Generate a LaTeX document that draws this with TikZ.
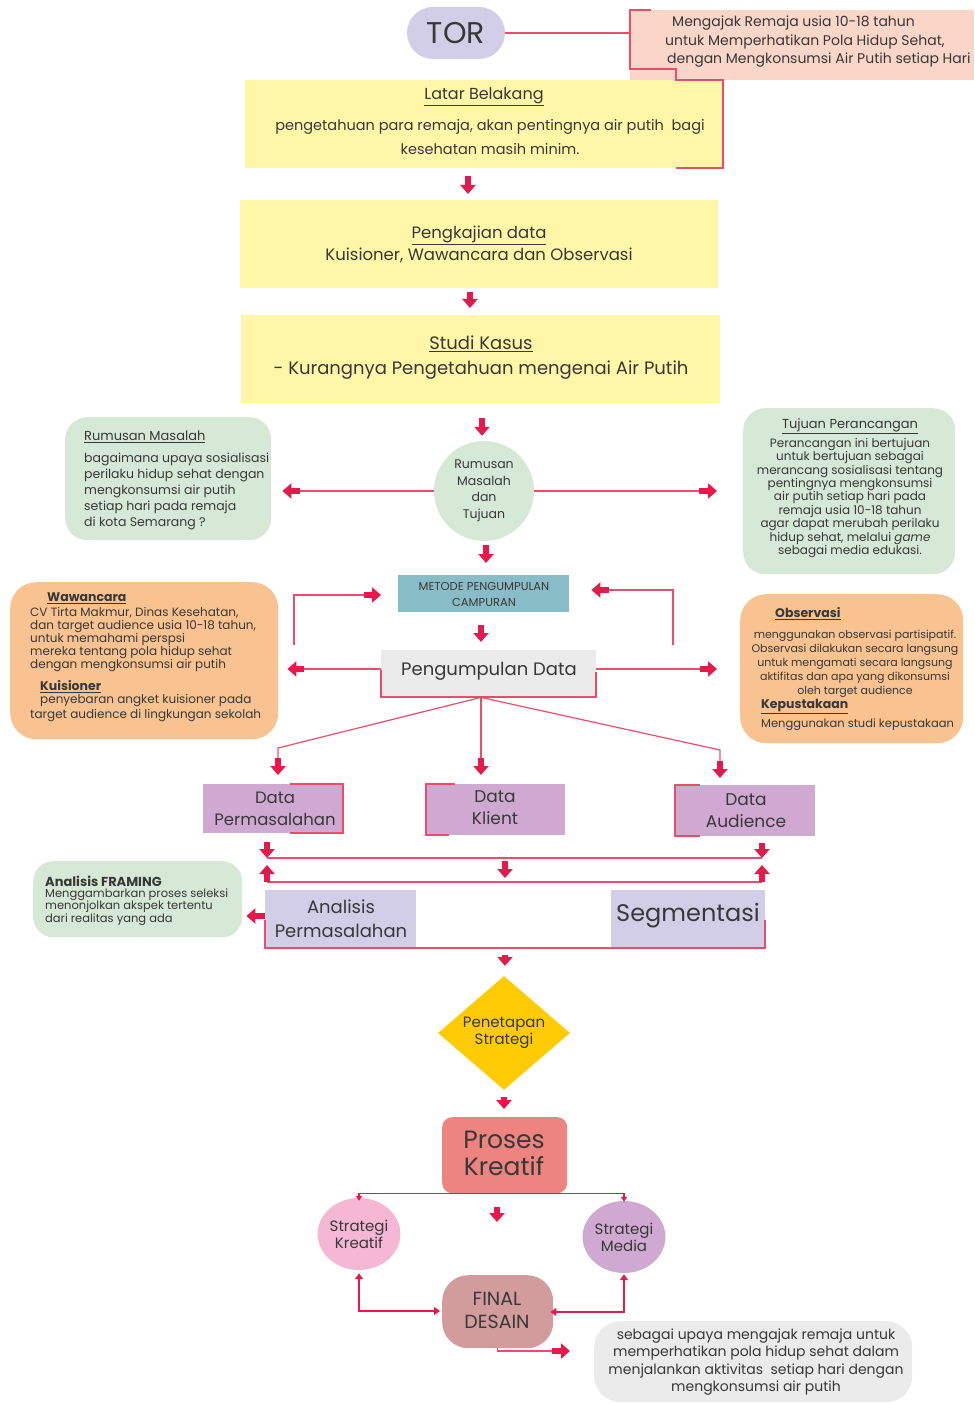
\documentclass[tikz,border=0pt]{standalone}
\usepackage{fontspec}
\setmainfont{Poppins}
\usetikzlibrary{arrows.meta,shapes.geometric,calc}
\definecolor{tc}{HTML}{383838}
\definecolor{ared}{HTML}{E5194B}
\definecolor{lred}{HTML}{EA4D6C}
\definecolor{lav}{HTML}{D3CEE8}
\definecolor{pinkbg}{HTML}{FAD6C9}
\definecolor{yel}{HTML}{FFF6A8}
\definecolor{grn}{HTML}{D6E8D6}
\definecolor{tealc}{HTML}{88BDC7}
\definecolor{gry}{HTML}{EBEBEB}
\definecolor{orn}{HTML}{F8C390}
\definecolor{pur}{HTML}{D0A9D2}
\definecolor{gold}{HTML}{FFCB05}
\definecolor{salm}{HTML}{EE847F}
\definecolor{pk}{HTML}{F5B8D4}
\definecolor{fin}{HTML}{D29C9C}
\newcommand\myfs[2]{\fontsize{#1}{#2}\selectfont}
\begin{document}
\begin{tikzpicture}[x=1pt,y=-1pt,
  t/.style={inner sep=0pt, text=tc, align=center},
  tl/.style={inner sep=0pt, text=tc, align=left, anchor=west},
  bx/.style={anchor=north west, inner sep=0pt, draw=none},
  lline/.style={draw=lred, line width=1.2pt},
  barrow/.style={draw=ared, line width=5.5pt, -{Triangle[length=9pt,width=15pt]}},
  sarrow/.style={draw=ared, line width=1.3pt, -{Triangle[length=5pt,width=6pt]}},
  sarrows/.style={draw=ared, line width=1.3pt, {Triangle[length=6pt,width=8pt]}-{Triangle[length=6pt,width=8pt]}},
]
\useasboundingbox (0,0) rectangle (974,1404);

% ---------- TOR ----------
\node[fill=lav, rounded corners=26pt, minimum width=98pt, minimum height=52pt, inner sep=0pt, text=tc, font=\myfs{30}{32}] (tor) at (456,33) {TOR};
\node[bx, fill=pinkbg, minimum width=344pt, minimum height=70pt] (torbox) at (630,10) {};
\node[tl, font=\myfs{14}{17}] (tort1) at (672,23) {Mengajak Remaja usia 10-18 tahun};
\node[tl, font=\myfs{14}{17}] (tort2) at (665,42) {untuk Memperhatikan Pola Hidup Sehat,};
\node[tl, font=\myfs{14}{17}] (tort3) at (667,60) {dengan Mengkonsumsi Air Putih setiap Hari};
\draw[lline] (tor.east) -- (tor.east -| torbox.west);

% ---------- Latar Belakang ----------
\node[bx, fill=yel, minimum width=478pt, minimum height=88pt] (latar) at (245,80) {};
\node[t, font=\myfs{16}{18}] (latart) at (484,97) {\underline{Latar Belakang}};
\node[t, font=\myfs{14.5}{24}] (latarb) at (490,137) {pengetahuan para remaja, akan pentingnya air putih\ \ bagi\\kesehatan masih minim.};
\draw[lline] (651,10) -- (630,10) -- (630,69) -- (676,69) -- (676,80) -- (723,80) -- (723,168) -- (676,168);

% ---------- Pengkajian ----------
\node[bx, fill=yel, minimum width=478pt, minimum height=88pt] (peng) at (240,200) {};
\node[t, font=\myfs{16.5}{22}] (pengt) at (479,244) {\underline{Pengkajian data}\\Kuisioner, Wawancara dan Observasi};

% ---------- Studi Kasus ----------
\node[bx, fill=yel, minimum width=479pt, minimum height=88pt] (studi) at (241,315) {};
\node[t, font=\myfs{18}{25}] (studit) at (481,358) {\underline{Studi Kasus}\\- Kurangnya Pengetahuan mengenai Air Putih};

\draw[barrow, shorten <=8pt, shorten >=6pt] (latar.south -| 468,0) -- (peng.north -| 468,0);
\draw[barrow, shorten <=4pt, shorten >=7pt] (peng.south -| 470,0) -- (studi.north -| 470,0);

% ---------- Rumusan / Tujuan ----------
\node[circle, fill=grn, minimum size=100pt, inner sep=0pt, text=tc, align=center, font=\myfs{12.5}{16.5}] (rm) at (484,491) {Rumusan\\Masalah\\dan\\Tujuan};
\draw[barrow, shorten <=15pt, shorten >=5pt] (studi.south -| 482,0) -- (rm.north -| 482,0);

\node[bx, fill=grn, rounded corners=22pt, minimum width=206pt, minimum height=123pt] (rum) at (65,417) {};
\node[tl, font=\myfs{13}{16}] (rumt) at (84,437) {\underline{Rumusan Masalah}};
\node[tl, font=\myfs{12.5}{16}] (rumb) at (84,491) {bagaimana upaya sosialisasi\\perilaku hidup sehat dengan\\mengkonsumsi air putih\\setiap hari pada remaja\\di kota Semarang ?};

\node[bx, fill=grn, rounded corners=22pt, minimum width=212pt, minimum height=166pt] (tuj) at (743,408) {};
\node[t, font=\myfs{13}{16}] (tujt) at (850,426) {\underline{Tujuan Perancangan}};
\node[t, font=\myfs{12}{13.4}] (tujb) at (850,498) {Perancangan ini bertujuan\\untuk bertujuan sebagai\\merancang sosialisasi tentang\\pentingnya mengkonsumsi\\air putih setiap hari pada\\remaja usia 10-18 tahun\\agar dapat merubah perilaku\\hidup sehat, melalui \textit{game}\\sebagai media edukasi.};

\draw[lline, shorten >=28pt] (rm.west) -- (rum.east |- rm.west);
\draw[barrow, shorten >=11pt] ([xshift=29pt]rum.east |- rm.west) -- (rum.east |- rm.west);
\draw[lline, shorten >=44pt] (rm.east) -- (tuj.west |- rm.east);
\draw[barrow, shorten >=26pt] ([xshift=-44pt]tuj.west |- rm.east) -- (tuj.west |- rm.east);

% ---------- Metode ----------
\node[bx, fill=tealc, minimum width=171pt, minimum height=37pt] (met) at (398,575) {};
\node[t, font=\myfs{11.5}{16}] (mett) at (484,594) {METODE PENGUMPULAN\\CAMPURAN};
\draw[barrow, shorten <=4pt, shorten >=12pt] (rm.south -| 486,0) -- (met.north -| 486,0);

% ---------- Pengumpulan Data ----------
\node[bx, fill=gry, minimum width=215pt, minimum height=47pt] (pd) at (381,650) {};
\node[t, font=\myfs{18}{22}] (pdt) at (489,671) {Pengumpulan Data};
\draw[lline] (381,670) -- (381,697) -- (596,697) -- (596,672);
\draw[barrow, shorten <=13pt, shorten >=8pt] (met.south -| 481,0) -- (pd.north -| 481,0);

\coordinate (lloop) at (294,645);
\coordinate (rloop) at (673,645);
\draw[lline, shorten >=33pt] (lloop) |- (met.west |- 0,595);
\draw[barrow, shorten >=17pt] ([xshift=-34pt]met.west |- 0,595) -- (met.west |- 0,595);
\draw[lline, shorten >=38pt] (rloop) |- (met.east |- 0,590);
\draw[barrow, shorten >=22pt] ([xshift=40pt]met.east |- 0,590) -- (met.east |- 0,590);

% ---------- Wawancara ----------
\node[bx, fill=orn, rounded corners=26pt, minimum width=268pt, minimum height=157pt] (waw) at (10,582) {};
\node[tl, font=\bfseries\myfs{12.5}{15}] (wawt) at (47,598) {\underline{Wawancara}};
\node[tl, font=\myfs{12}{13}] (wawb) at (30,640) {CV Tirta Makmur, Dinas Kesehatan,\\dan target audience usia 10-18 tahun,\\untuk memahami perspsi\\mereka tentang pola hidup sehat\\dengan mengkonsumsi air putih};
\node[tl, font=\bfseries\myfs{12.5}{15}] (kuit) at (40,687) {\underline{Kuisioner}};
\node[tl, font=\myfs{12}{15}] (kuib1) at (40,701) {penyebaran angket kuisioner pada};
\node[tl, font=\myfs{12}{15}] (kuib2) at (30,716) {target audience di lingkungan sekolah};

% ---------- Observasi ----------
\node[bx, fill=orn, rounded corners=26pt, minimum width=223pt, minimum height=149pt] (obs) at (740,594) {};
\node[tl, font=\bfseries\myfs{12.5}{15}] (obst) at (775,614) {\underline{Observasi}};
\node[t, font=\myfs{11}{14}] (obsb) at (855,664) {menggunakan observasi partisipatif.\\Observasi dilakukan secara langsung\\untuk mengamati secara langsung\\aktifitas dan apa yang dikonsumsi\\oleh target audience};
\node[tl, font=\bfseries\myfs{12.5}{15}] (kept) at (761,707) {\underline{Kepustakaan}};
\node[tl, font=\myfs{11.5}{15}] (kepb) at (761,725) {Menggunakan studi kepustakaan};

\draw[lline, shorten >=25pt] (pd.west |- 0,669) -- (waw.east |- 0,669);
\draw[barrow, shorten >=9pt] ([xshift=26pt]waw.east |- 0,669) -- (waw.east |- 0,669);
\draw[lline, shorten >=39pt] (pd.east |- 0,669) -- (obs.west |- 0,669);
\draw[barrow, shorten >=23pt] ([xshift=-40pt]obs.west |- 0,669) -- (obs.west |- 0,669);

% ---------- Data boxes ----------
\node[bx, fill=pur, minimum width=140pt, minimum height=49pt] (dp) at (203,784) {};
\node[t, font=\myfs{16.5}{22}] (dpt) at (275,809) {Data\\Permasalahan};
\draw[lline] (290,784) -- (343,784) -- (343,833) -- (290,833);
\node[bx, fill=pur, minimum width=139pt, minimum height=51pt] (dk) at (426,784) {};
\node[t, font=\myfs{17}{22}] (dkt) at (495,808) {Data\\Klient};
\draw[lline] (455,784) -- (426,784) -- (426,835) -- (449,835);
\node[bx, fill=pur, minimum width=140pt, minimum height=51pt] (da) at (675,785) {};
\node[t, font=\myfs{17}{22}] (dat) at (746,811) {Data\\Audience};
\draw[lline] (700,785) -- (675,785) -- (675,836) -- (700,836);

\draw[lline] (pd.south -| 481,0) -- (278,748) -- (278,760);
\draw[barrow, shorten >=9pt] (278,758) -- (dp.north -| 278,0);
\draw[lline] (pd.south -| 481,0) -- (481,760);
\draw[barrow, shorten >=9pt] (481,758) -- (dk.north -| 481,0);
\draw[lline] (pd.south -| 481,0) -- (720,750) -- (720,763);
\draw[barrow, shorten >=7pt] (720,761) -- (da.north -| 720,0);

% ---------- bus ----------
\draw[lline] (267,858) -- (762,858);
\draw[lline] (267,882) -- (762,882);
\draw[barrow, shorten <=9pt] (dp.south -| 267,0) -- (267,858);
\draw[barrow, shorten <=7pt] (da.south -| 762,0) -- (762,858);
\draw[barrow] (505,861) -- (505,878);
\draw[barrow] (267,882) -- (267,865);
\draw[barrow] (762,882) -- (762,865);

% ---------- Analisis / Segmentasi ----------
\node[bx, fill=lav, minimum width=151pt, minimum height=57pt] (ap) at (265,890) {};
\node[t, font=\myfs{18}{24}] (apt) at (341,919) {Analisis\\Permasalahan};
\node[bx, fill=lav, minimum width=154pt, minimum height=57pt] (seg) at (611,890) {};
\node[t, font=\myfs{24}{28}] (segt) at (688,916) {Segmentasi};
\draw[lline] (265,920) -- (265,948) -- (765,948) -- (765,920);

\node[bx, fill=grn, rounded corners=20pt, minimum width=209pt, minimum height=76pt] (fr) at (33,861) {};
\node[tl, font=\bfseries\myfs{13}{15}] (frt) at (45,881) {Analisis FRAMING};
\node[tl, font=\myfs{11.5}{12.5}] (frb) at (45,907) {Menggambarkan proses seleksi\\menonjolkan akspek tertentu\\dari realitas yang ada};
\draw[barrow, shorten >=4pt] (ap.west |- 0,916) -- (fr.east |- 0,916);

% ---------- Strategy ----------
\node[diamond, fill=gold, minimum width=132pt, minimum height=106pt, inner sep=0pt, text=tc, align=center, font=\myfs{15}{17}] (pst) at (504,1033) {Penetapan\\Strategi};
\draw[barrow, shorten <=7pt, shorten >=10pt] (505,948) -- (pst.north -| 505,0);

\node[bx, fill=salm, rounded corners=10pt, minimum width=125pt, minimum height=76pt] (pk) at (442,1117) {};
\node[t, font=\myfs{25}{27}] (pkt) at (504,1153) {Proses\\Kreatif};
\draw[barrow, shorten <=7pt, shorten >=8pt] (pst.south) -- (pk.north -| pst.south);

\node[ellipse, fill=pk, minimum width=78pt, minimum height=72pt, inner sep=0pt, text=tc, align=center, font=\myfs{15}{17}] (sk) at (359,1234) {Strategi\\Kreatif};
\node[ellipse, fill=pur, minimum width=78pt, minimum height=72pt, inner sep=0pt, text=tc, align=center, font=\myfs{15}{17}] (sm) at (624,1237) {Strategi\\Media};
\draw[sarrow] (pk.south) -| ([yshift=-3pt]sk.north);
\draw[sarrow] (pk.south) -| ([yshift=-1pt]sm.north);

\node[bx, fill=fin, rounded corners=26pt, minimum width=111pt, minimum height=73pt] (fd) at (442,1275) {};
\node[t, font=\myfs{19}{23}] (fdt) at (497,1310) {FINAL\\DESAIN};
\draw[barrow, shorten <=14pt, shorten >=53pt] (pk.south -| 497,0) -- (fd.north -| 497,0);

\draw[sarrows, shorten <=2pt, shorten >=2pt] ([yshift=-1pt]sk.south) |- (fd.west |- 0,1311);
\draw[sarrows, shorten <=-3pt, shorten >=1pt] (fd.east |- 0,1312) -| (sm.south);

\node[bx, fill=gry, rounded corners=26pt, minimum width=318pt, minimum height=81pt] (ft) at (594,1321) {};
\node[t, font=\myfs{14}{17.6}] (ftt) at (756,1362) {sebagai upaya mengajak remaja untuk\\memperhatikan pola hidup sehat dalam\\menjalankan aktivitas\ \ setiap hari dengan\\mengkonsumsi air putih};
\draw[lline, shorten >=40pt] (fd.south) |- (ft.west |- 0,1351);
\draw[barrow, shorten >=24pt] ([xshift=-42pt]ft.west |- 0,1351) -- (ft.west |- 0,1351);
\end{tikzpicture}
\end{document}
